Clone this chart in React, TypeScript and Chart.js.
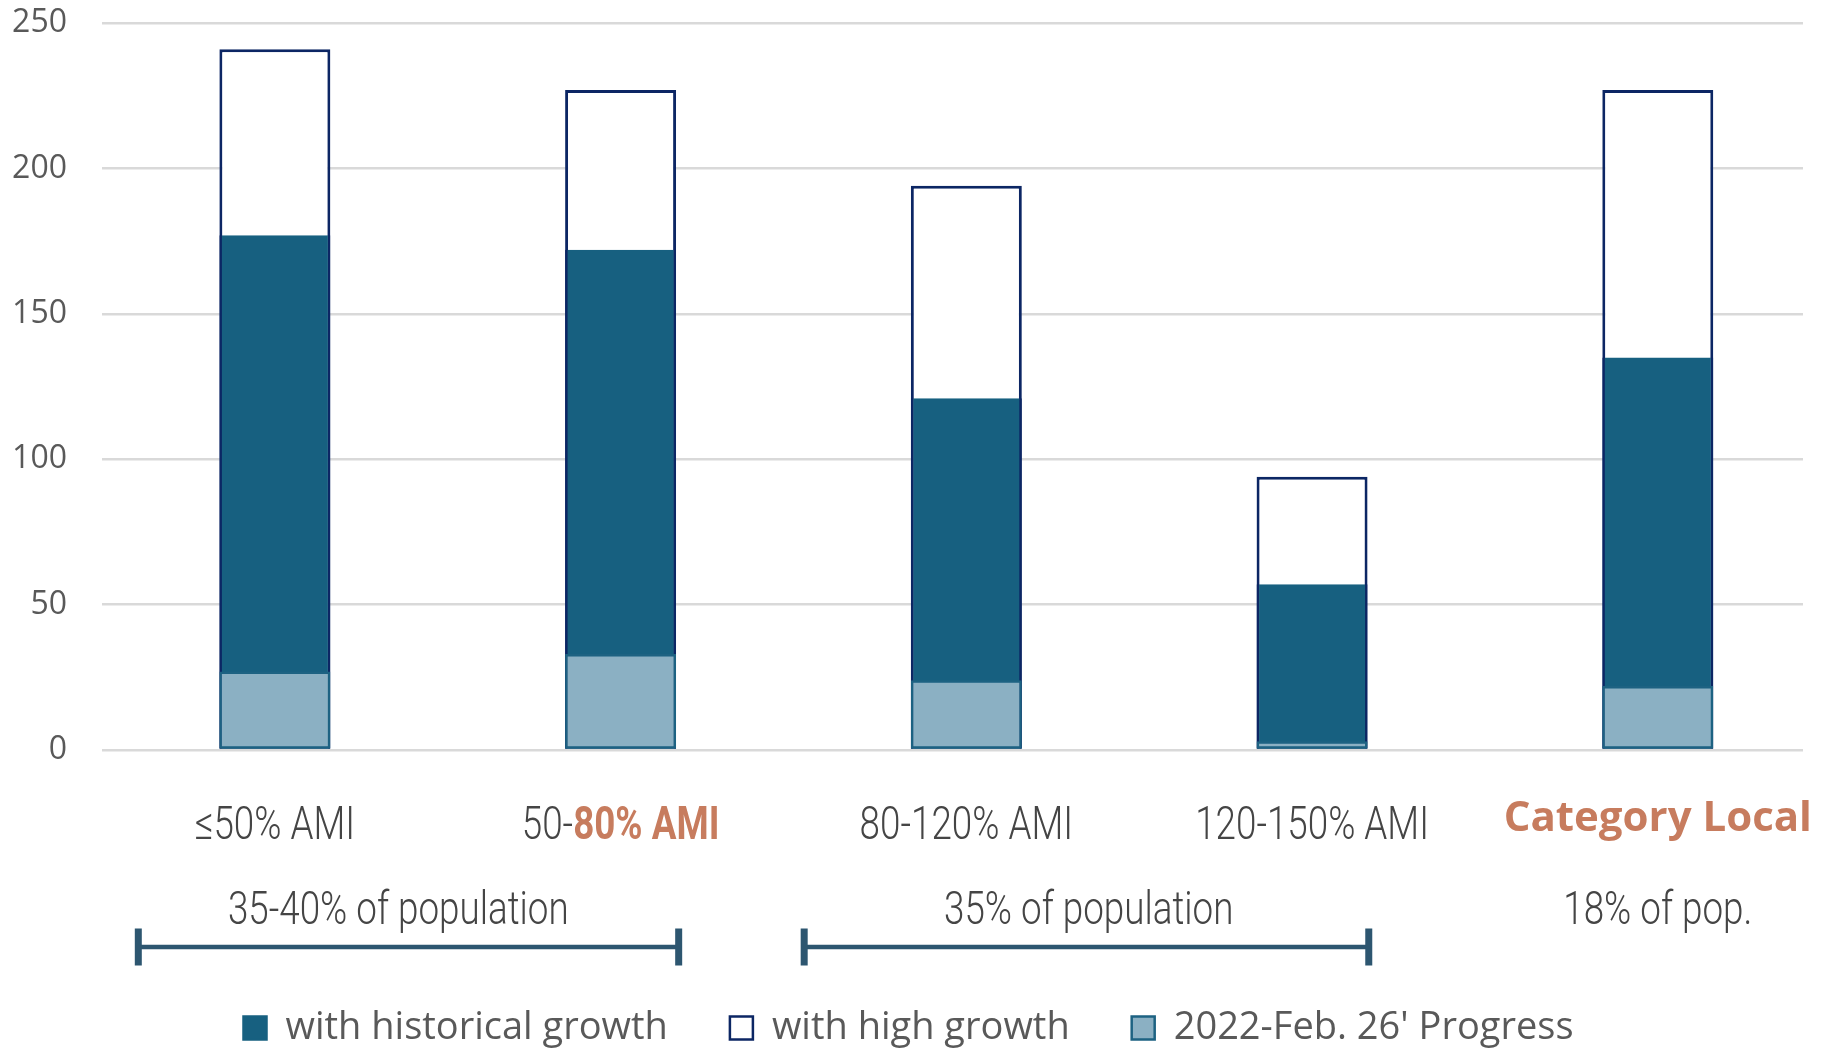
import React, { useEffect, useRef } from "react";
import { Chart, registerables } from "chart.js";

Chart.register(...registerables);

// ---------- data ----------
const categories = ["≤50% AMI", "50-80% AMI", "80-120% AMI", "120-150% AMI", "Category Local"];
const highGrowth = [241, 227, 194, 94, 227];
const historicalGrowth = [177, 172, 121, 57, 135];
const progress = [27, 33, 24, 3, 22];
const yTickValues = [0, 50, 100, 150, 200, 250];
const seriesNames = ["with historical growth", "with high growth", "2022-Feb. 26' Progress"];
// part of each category label that is highlighted in orange
const highlightedParts = ["", "80% AMI", "", "", "Category Local"];
const populationLabels = ["35-40% of population", "35% of population", "18% of pop."];

// ---------- layout / style (not data) ----------
const LAYOUT = {
  xMin: -0.5,
  xMax: 4.42,
  popCenters: [0.357, 2.354, 4.0],
  brackets: [
    [-0.395, 1.168],
    [1.531, 3.164],
  ],
  catBaseline: 89,
  catBoldBaseline: 81,
  popBaseline: 174,
  bracketY: 197,
  legendShift: 7,
};

const COLORS = {
  teal: "#176080",
  navy: "#0C2664",
  light: "#8BB0C3",
  lightBorder: "#1D6282",
  grid: "#D9D9D9",
  tick: "#595959",
  condensed: "#454545",
  orange: "#C77C5E",
  bracket: "#2D5670",
};

const CONDENSED_SIZE = 46;
const CONDENSED_SCALE = 0.8;

function condensedWidth(ctx: CanvasRenderingContext2D, text: string, weight: number) {
  ctx.font = `${weight} ${CONDENSED_SIZE}px Roboto`;
  return ctx.measureText(text).width * CONDENSED_SCALE;
}

function drawCondensed(ctx: CanvasRenderingContext2D, text: string, x: number, y: number, weight: number, color: string) {
  ctx.save();
  ctx.translate(x, y);
  ctx.scale(CONDENSED_SCALE, 1);
  ctx.font = `${weight} ${CONDENSED_SIZE}px Roboto`;
  ctx.fillStyle = color;
  ctx.textAlign = "left";
  ctx.textBaseline = "alphabetic";
  ctx.fillText(text, 0, 0);
  ctx.restore();
}

const annotationPlugin = {
  id: "annotations",
  afterLayout(chart: any) {
    if (chart.legend) {
      chart.legend.left += LAYOUT.legendShift;
      chart.legend.right += LAYOUT.legendShift;
    }
  },
  afterDraw(chart: any) {
    const { ctx, chartArea, scales } = chart;
    const x = scales.x;
    const base = chartArea.bottom;
    ctx.save();

    // category labels
    categories.forEach((cat: string, i: number) => {
      const cx = x.getPixelForValue(i);
      const hl = highlightedParts[i];
      if (hl && hl === cat) {
        ctx.font = "700 42px 'Open Sans'";
        ctx.fillStyle = COLORS.orange;
        ctx.textAlign = "center";
        ctx.textBaseline = "alphabetic";
        ctx.fillText(cat, cx, base + LAYOUT.catBoldBaseline);
      } else if (hl) {
        const idx = cat.indexOf(hl);
        const pre = cat.slice(0, idx);
        const wPre = condensedWidth(ctx, pre, 300);
        const wHl = condensedWidth(ctx, hl, 700);
        const start = cx - (wPre + wHl) / 2;
        drawCondensed(ctx, pre, start, base + LAYOUT.catBaseline, 300, COLORS.condensed);
        drawCondensed(ctx, hl, start + wPre, base + LAYOUT.catBaseline, 700, COLORS.orange);
      } else {
        const w = condensedWidth(ctx, cat, 300);
        drawCondensed(ctx, cat, cx - w / 2, base + LAYOUT.catBaseline, 300, COLORS.condensed);
      }
    });

    // population labels
    populationLabels.forEach((t: string, i: number) => {
      const cx = x.getPixelForValue(LAYOUT.popCenters[i]);
      const w = condensedWidth(ctx, t, 300);
      drawCondensed(ctx, t, cx - w / 2, base + LAYOUT.popBaseline, 300, COLORS.condensed);
    });

    // brackets
    ctx.strokeStyle = COLORS.bracket;
    ctx.fillStyle = COLORS.bracket;
    LAYOUT.brackets.forEach(([a, b]) => {
      const x1 = x.getPixelForValue(a);
      const x2 = x.getPixelForValue(b);
      const y = base + LAYOUT.bracketY;
      ctx.lineWidth = 4.5;
      ctx.beginPath();
      ctx.moveTo(x1, y);
      ctx.lineTo(x2, y);
      ctx.stroke();
      ctx.fillRect(x1 - 3.5, y - 18.5, 7, 37);
      ctx.fillRect(x2 - 3.5, y - 18.5, 7, 37);
    });

    ctx.restore();
  },
};

export default function App() {
  const canvasRef = useRef<HTMLCanvasElement | null>(null);

  useEffect(() => {
    const canvas = canvasRef.current;
    if (!canvas) return;
    Chart.defaults.font.family = "'Open Sans'";

    const toPoints = (arr: number[]) => arr.map((v, i) => ({ x: i, y: v }));

    const datasets: any[] = [
      {
        label: seriesNames[0],
        data: toPoints(historicalGrowth),
        backgroundColor: COLORS.teal,
        borderColor: COLORS.navy,
        borderWidth: { left: 2.5, right: 2.5, top: 0, bottom: 0 },
        borderSkipped: false,
        order: 2,
        legendStroke: COLORS.teal,
      },
      {
        label: seriesNames[1],
        data: toPoints(highGrowth),
        backgroundColor: "#FFFFFF",
        borderColor: COLORS.navy,
        borderWidth: 3,
        borderSkipped: false,
        order: 3,
        legendStroke: COLORS.navy,
      },
      {
        label: seriesNames[2],
        data: toPoints(progress),
        backgroundColor: COLORS.light,
        borderColor: COLORS.lightBorder,
        borderWidth: 2.5,
        borderSkipped: false,
        order: 1,
        legendStroke: COLORS.lightBorder,
      },
    ];

    const chart = new Chart(canvas, {
      type: "bar",
      data: { datasets },
      options: {
        animation: false,
        responsive: false,
        maintainAspectRatio: false,
        layout: { padding: { top: 23, right: 31, left: 0, bottom: 0 } },
        datasets: {
          bar: {
            grouped: false,
            barPercentage: 0.321,
            categoryPercentage: 1,
          },
        },
        scales: {
          x: {
            type: "linear",
            min: LAYOUT.xMin,
            max: LAYOUT.xMax,
            offset: false,
            afterBuildTicks: (axis: any) => {
              axis.ticks = categories.map((_, i) => ({ value: i }));
            },
            ticks: { display: false },
            grid: { display: false },
            border: { display: false },
            afterFit: (axis: any) => {
              axis.height = 197;
              axis.paddingLeft = 0;
              axis.paddingRight = 0;
            },
          },
          y: {
            min: 0,
            max: 250,
            afterBuildTicks: (axis: any) => {
              axis.ticks = yTickValues.map((v) => ({ value: v }));
            },
            grid: { color: COLORS.grid, lineWidth: 2.5, drawTicks: false },
            border: { display: false },
            ticks: {
              color: COLORS.tick,
              font: { family: "'Open Sans'", size: 32 },
              padding: 35,
            },
            afterFit: (axis: any) => {
              axis.width = 102;
              axis.paddingTop = 0;
              axis.paddingBottom = 0;
            },
          },
        },
        plugins: {
          tooltip: { enabled: false },
          legend: {
            position: "bottom",
            labels: {
              color: COLORS.tick,
              font: { family: "'Open Sans'", size: 38 },
              boxWidth: 23,
              boxHeight: 23,
              padding: 62,
              generateLabels: (c: any) =>
                c.data.datasets.map((ds: any, i: number) => ({
                  text: ds.label,
                  fillStyle: ds.backgroundColor,
                  strokeStyle: ds.legendStroke,
                  lineWidth: 2.5,
                  hidden: false,
                  datasetIndex: i,
                  fontColor: COLORS.tick,
                })),
            },
          },
        },
      } as any,
      plugins: [annotationPlugin],
    });

    return () => chart.destroy();
  }, []);

  return (
    <div style={{ position: "fixed", left: 0, top: 0, width: 1834, height: 1057, background: "#FFFFFF" }}>
      <canvas ref={canvasRef} width={1834} height={1057} style={{ display: "block" }} />
    </div>
  );
}
